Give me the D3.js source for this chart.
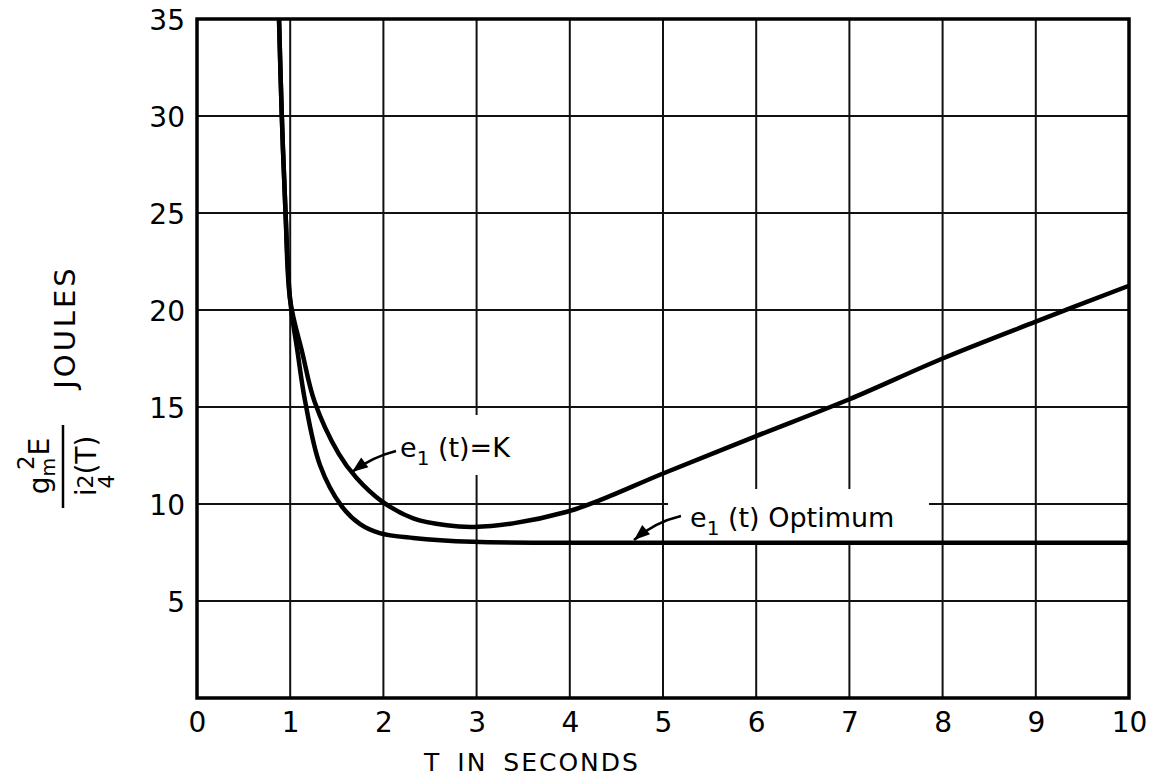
<!DOCTYPE html>
<html>
<head>
<meta charset="utf-8">
<script src="https://cdn.jsdelivr.net/npm/d3@7"></script>
<style>
  body { margin: 0; background: #fff; }
  svg text { font-family: "DejaVu Sans", sans-serif; fill: #000; }
</style>
</head>
<body>
<svg id="chart" width="1150" height="780"></svg>
<script>
// values
var xTicks = [0, 1, 2, 3, 4, 5, 6, 7, 8, 9, 10];
var yTicks = [5, 10, 15, 20, 25, 30, 35];
var xGrid = [1, 2, 3, 4, 5, 6, 7, 8, 9];
var yGrid = [5, 10, 15, 20, 25, 30];

// e1(t) optimum
var tOpt = [0.88, 0.91, 0.95, 1.0, 1.08, 1.16, 1.32, 1.55, 1.75, 1.96, 2.32, 2.96, 4, 6, 8, 10];
var eOpt = [35, 30, 25, 20.5, 17.8, 15.3, 12.0, 9.9, 8.96, 8.5, 8.25, 8.05, 8.0, 8.0, 8.0, 8.0];

// e1(t) = K
var tK = [0.88, 0.91, 0.95, 1.0, 1.13, 1.26, 1.52, 1.71, 1.98, 2.32, 2.68, 2.97, 3.39, 3.97, 4.3, 5.0, 6.0, 7.0, 8.0, 9.0, 10.0];
var eK = [35, 30, 25, 20.5, 17.8, 15.3, 12.6, 11.35, 10.15, 9.26, 8.9, 8.82, 9.0, 9.6, 10.15, 11.57, 13.5, 15.4, 17.5, 19.4, 21.25];

var svg = d3.select("#chart");

var x = d3.scaleLinear().domain([0, 10]).range([197, 1129]);
var y = d3.scaleLinear().domain([0, 35]).range([698, 19]);

// grid
svg.append("g").selectAll("line")
  .data(xGrid).enter().append("line")
  .attr("x1", d => x(d)).attr("x2", d => x(d))
  .attr("y1", y(35)).attr("y2", y(0))
  .attr("stroke", "#111").attr("stroke-width", 2);

svg.append("g").selectAll("line")
  .data(yGrid).enter().append("line")
  .attr("x1", x(0)).attr("x2", x(10))
  .attr("y1", d => y(d)).attr("y2", d => y(d))
  .attr("stroke", "#111").attr("stroke-width", 2);

// gaps in the grid behind the labels
svg.append("rect").attr("x", 395).attr("y", 415).attr("width", 115).attr("height", 60).attr("fill", "#fff");
svg.append("rect").attr("x", 668).attr("y", 489).attr("width", 261).attr("height", 52).attr("fill", "#fff");

// frame
svg.append("rect")
  .attr("x", x(0)).attr("y", y(35))
  .attr("width", x(10) - x(0)).attr("height", y(0) - y(35))
  .attr("fill", "none").attr("stroke", "#000").attr("stroke-width", 3.5);

// curves
var line = d3.line()
  .x(d => x(d[0])).y(d => y(d[1]))
  .curve(d3.curveCatmullRom.alpha(0.5));

svg.append("path")
  .datum(tOpt.map((t, i) => [t, eOpt[i]]))
  .attr("d", line)
  .attr("fill", "none").attr("stroke", "#000").attr("stroke-width", 4.5);

svg.append("path")
  .datum(tK.map((t, i) => [t, eK[i]]))
  .attr("d", line)
  .attr("fill", "none").attr("stroke", "#000").attr("stroke-width", 4.5);

// axes
var xAxis = d3.axisBottom(x).tickValues(xTicks).tickSize(0).tickPadding(0);
var gx = svg.append("g")
  .attr("transform", "translate(0," + y(0) + ")")
  .call(xAxis);
gx.select(".domain").remove();
gx.selectAll("text")
  .attr("y", 34).attr("dy", 0)
  .style("font-size", "28px")
  .style("font-family", "DejaVu Sans, sans-serif");

var yAxis = d3.axisLeft(y).tickValues(yTicks).tickSize(0).tickPadding(12);
var gy = svg.append("g")
  .attr("transform", "translate(" + x(0) + ",0)")
  .call(yAxis);
gy.select(".domain").remove();
gy.selectAll("text")
  .attr("dy", "0.36em")
  .style("font-size", "28px")
  .style("font-family", "DejaVu Sans, sans-serif");

// x title
svg.append("text")
  .attr("x", 532).attr("y", 771)
  .attr("text-anchor", "middle")
  .style("font-size", "25px")
  .style("letter-spacing", "2px")
  .style("word-spacing", "6px")
  .text("T IN SECONDS");

// y title (rotated)
var yt = svg.append("g").attr("transform", "rotate(-90)");
yt.append("text")
  .attr("x", -327).attr("y", 75)
  .attr("text-anchor", "middle")
  .style("font-size", "29px")
  .style("letter-spacing", "3px")
  .text("JOULES");

var num = yt.append("text")
  .attr("x", -466).attr("y", 49)
  .attr("text-anchor", "middle")
  .style("font-size", "28px");
num.append("tspan").text("g");
num.append("tspan").attr("dy", 6).style("font-size", "19px").text("m");
num.append("tspan").attr("dx", -12).attr("dy", -21).style("font-size", "23px").text("2");
num.append("tspan").attr("dy", 15).text("E");

yt.append("line")
  .attr("x1", -508).attr("x2", -425)
  .attr("y1", 63).attr("y2", 63)
  .attr("stroke", "#000").attr("stroke-width", 2.5);

var den = yt.append("text")
  .attr("x", -466).attr("y", 96)
  .attr("text-anchor", "middle")
  .style("font-size", "28px");
den.append("tspan").text("i");
den.append("tspan").attr("dy", 18).style("font-size", "22px").text("4");
den.append("tspan").attr("dx", -14).attr("dy", -21).style("font-size", "22px").text("2");
den.append("tspan").attr("dy", 3).text("(T)");

// annotations
function arrow(x1, y1, cx, cy, x2, y2) {
  svg.append("path")
    .attr("d", "M" + x1 + "," + y1 + " Q" + cx + "," + cy + " " + x2 + "," + y2)
    .attr("fill", "none").attr("stroke", "#000").attr("stroke-width", 2.5);
  var a = Math.atan2(y2 - cy, x2 - cx);
  var L = 16, Wd = 6;
  var bx = x2 - L * Math.cos(a), by = y2 - L * Math.sin(a);
  svg.append("path")
    .attr("d", "M" + x2 + "," + y2 +
      " L" + (bx + Wd * Math.sin(a)) + "," + (by - Wd * Math.cos(a)) +
      " L" + (bx - Wd * Math.sin(a)) + "," + (by + Wd * Math.cos(a)) + "Z")
    .attr("fill", "#000");
}

arrow(396, 451, 372, 457, 352, 472);
arrow(681, 516, 655, 522, 634, 540);

var k = svg.append("text").attr("x", 400).attr("y", 457).style("font-size", "27px");
k.append("tspan").text("e");
k.append("tspan").attr("dy", 8).style("font-size", "20px").text("1");
k.append("tspan").attr("dy", -8).text(" (t)=K");

var o = svg.append("text").attr("x", 690).attr("y", 527).style("font-size", "27px");
o.append("tspan").text("e");
o.append("tspan").attr("dy", 8).style("font-size", "20px").text("1");
o.append("tspan").attr("dy", -8).text("  (t) Optimum");
</script>
</body>
</html>
